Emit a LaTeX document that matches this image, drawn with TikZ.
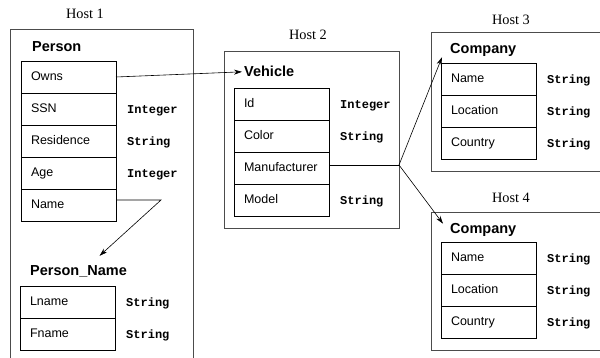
\documentclass[tikz,border=0pt]{standalone}
\usepackage{fontspec}
\setmainfont{Liberation Serif}
\setsansfont{Liberation Sans}
\setmonofont{Liberation Mono}
\usetikzlibrary{positioning, arrows.meta}

\begin{document}
\begin{tikzpicture}[x=1pt, y=-1pt,
		host/.style={draw=black!70, line width=0.9pt},
		hostlabel/.style={font=\fontsize{14.3}{16}\selectfont\rmfamily, inner sep=0pt},
		title/.style={font=\fontsize{14.5}{17}\selectfont\sffamily\bfseries, inner sep=0pt, anchor=base west},
		cell/.style={draw, line width=0.6pt, minimum width=95pt, minimum height=32pt, text width=75pt, inner xsep=10pt, inner ysep=0pt, outer sep=0pt, align=left, text height=9pt, text depth=2.5pt, font=\fontsize{12.5}{14}\selectfont\sffamily},
		field/.style={cell, below=0pt of #1},
		kind/.style={right=11pt of #1, yshift=-2pt, inner sep=0pt, text height=7pt, text depth=2.5pt, font=\fontsize{12}{14}\selectfont\ttfamily\bfseries},
		link/.style={-{Stealth[length=8pt, width=5pt]}, line width=0.6pt}]

		\clip (0, 0) rectangle (600, 358);

		\draw [host]	(10, 29) rectangle (193, 370);
		\draw [host]	(224, 51) rectangle (399, 228);
		\draw [host]	(431, 32) rectangle (610, 171);
		\draw [host]	(431, 212) rectangle (610, 350);

		\node [hostlabel] (h1) at (85, 14) {Host 1};
		\node [hostlabel] (h2) at (308, 35) {Host 2};
		\node [hostlabel] (h3) at (511, 20) {Host 3};
		\node [hostlabel] (h4) at (511, 198) {Host 4};

		\node [cell, anchor=north west] (owns) at (21, 61) {Owns};
		\node [field=owns] (ssn) {SSN};
		\node [field=ssn] (residence) {Residence};
		\node [field=residence] (age) {Age};
		\node [field=age] (name) {Name};
		\node [title] (person) at ([shift={(11, -9)}]owns.north west) {Person};
		\node [kind=ssn] {Integer};
		\node [kind=residence] {String};
		\node [kind=age] {Integer};

		\node [cell, anchor=north west] (lname) at (20, 286) {Lname};
		\node [field=lname] (fname) {Fname};
		\node [title] (pname) at ([shift={(10, -10)}]lname.north west) {Person\_Name};
		\node [kind=lname] {String};
		\node [kind=fname] {String};

		\node [cell, anchor=north west] (id) at (234, 88) {Id};
		\node [field=id] (color) {Color};
		\node [field=color] (manuf) {Manufacturer};
		\node [field=manuf] (model) {Model};
		\node [title] (vehicle) at ([shift={(10, -11)}]id.north west) {Vehicle};
		\node [kind=id] {Integer};
		\node [kind=color] {String};
		\node [kind=model] {String};

		\node [cell, anchor=north west] (cname) at (441, 63) {Name};
		\node [field=cname] (cloc) {Location};
		\node [field=cloc] (ccountry) {Country};
		\node [title] (comp) at ([shift={(9, -9)}]cname.north west) {Company};
		\node [kind=cname] {String};
		\node [kind=cloc] {String};
		\node [kind=ccountry] {String};

		\node [cell, anchor=north west] (dname) at (441, 242) {Name};
		\node [field=dname] (dloc) {Location};
		\node [field=dloc] (dcountry) {Country};
		\node [title] (compb) at ([shift={(9, -8)}]dname.north west) {Company};
		\node [kind=dname] {String};
		\node [kind=dloc] {String};
		\node [kind=dcountry] {String};

		\coordinate (knee) at (161, 200);
		\coordinate (fork) at (399, 165);

		\draw [link]	(owns.east) to ([xshift=-2pt]vehicle.west);
		\draw [link]	(name.east |- knee) -- (knee) -- ([shift={(21, -10)}]pname.north);
		\draw [line width=0.6pt]	(manuf.east |- fork) -- (fork);
		\draw [link]	(fork) -- ([xshift=-8pt]comp.south west);
		\draw [link]	(fork) -- ([xshift=-7pt]compb.north west);
	\end{tikzpicture}
\end{document}
